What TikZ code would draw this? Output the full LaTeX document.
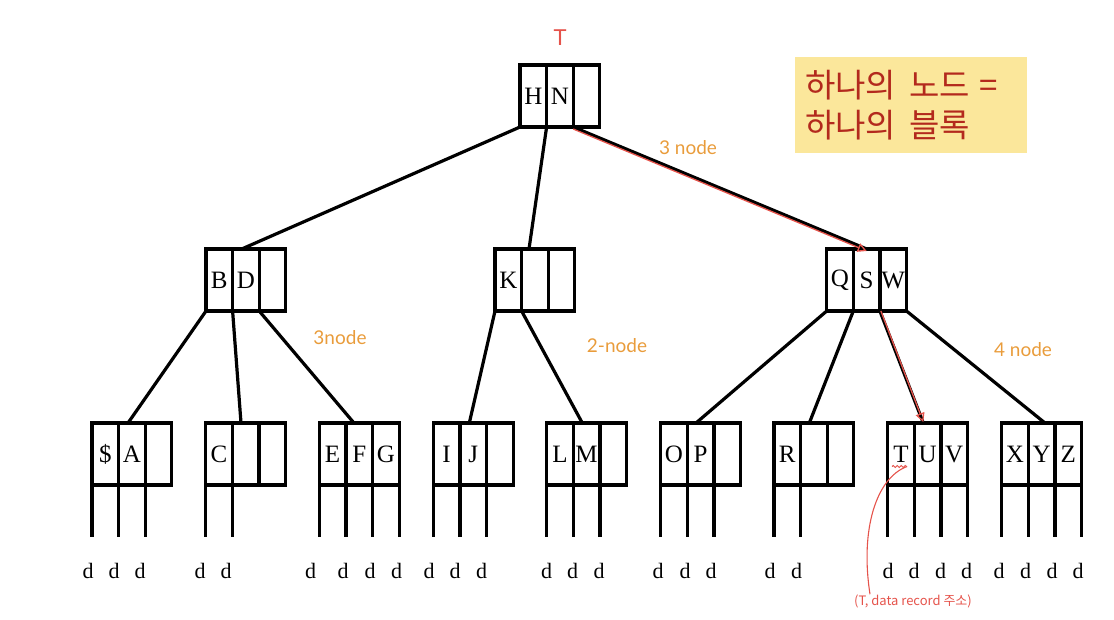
\documentclass[tikz,border=0pt]{standalone}
\usepackage{fontspec}
\setmainfont{Liberation Serif}
\newfontfamily\krfont{Noto Sans CJK KR}
\newfontfamily\handfont{Lato}
\usetikzlibrary{arrows.meta,calc,decorations.pathmorphing}
\definecolor{memobg}{HTML}{FBE79B}
\definecolor{memotx}{HTML}{B3291D}
\definecolor{pen}{HTML}{E5534B}
\definecolor{hl}{HTML}{E99C3B}
\newcommand\tribox[6]{%
  \node[cell] (#1-1) at (#2,#3) {#4};
  \node[cell] (#1-2) at (#1-1.north east) {#5};
  \node[cell] (#1-3) at (#1-2.north east) {#6};}
\newcommand\ptrs[2]{%
  \foreach \k in {1,...,#2}{%
    \ifnum\k<4 \draw[ptr] (#1-\k.south west) -- ++(0,52);%
    \else \draw[ptr] (#1-3.south east) -- ++(0,52);\fi}}
\begin{document}
\begin{tikzpicture}[x=1pt,y=-1pt,
  cell/.style={draw,line width=3.2pt,minimum width=26.6pt,minimum height=62pt,
    inner sep=0pt,outer sep=0pt,anchor=north west,font=\fontsize{25}{25}\selectfont},
  link/.style={line width=3.2pt},
  ptr/.style={line width=3.2pt},
  dlab/.style={font=\fontsize{22}{22}\selectfont,inner sep=0pt},
  hand/.style={font=\handfont\fontsize{19}{19}\selectfont,text=hl,inner sep=0pt},
  penline/.style={draw=pen,line width=1.3pt},
  pentip/.style={-{Triangle[open,length=9pt,width=9pt]}}]
\useasboundingbox (0,0) rectangle (1114,619);

% root
\tribox{HN}{520}{65}{H}{N}{}
% level 2
\tribox{BD}{206}{249}{B}{D}{}
\tribox{K}{495}{249}{K}{}{}
\tribox{QSW}{826.7}{249}{Q}{S}{W}
% leaves
\tribox{L1}{92}{423}{\$}{A}{}
\tribox{L2}{205.7}{423}{C}{}{}
\tribox{L3}{319.3}{423}{E}{F}{G}
\tribox{L4}{433.3}{423}{I}{J}{}
\tribox{L5}{546.7}{423}{L}{M}{}
\tribox{L6}{660.7}{423}{O}{P}{}
\tribox{L7}{774}{423}{R}{}{}
\tribox{L8}{887.7}{423}{T}{U}{V}
\tribox{L9}{1001.7}{423}{X}{Y}{Z}

% root links
\draw[link] (HN-1.south west) -- ([xshift=35.7pt]BD-1.north west);
\draw[link] (HN-2.south west) -- ([xshift=34pt]K-1.north west);
\draw[link] (HN-3.south west) -- ([xshift=40pt]QSW-1.north west);
% level 2 links
\draw[link] (BD-1.south west) -- ([xshift=36pt]L1-1.north west);
\draw[link] (BD-2.south west) -- ([xshift=35.3pt]L2-1.north west);
\draw[link] (BD-3.south west) -- ([xshift=34.7pt]L3-1.north west);
\draw[link] (K-1.south west) -- ([xshift=36pt]L4-1.north west);
\draw[link] (K-2.south west) -- ([xshift=35.6pt]L5-1.north west);
\draw[link] (QSW-1.south west) -- ([xshift=35.3pt]L6-1.north west);
\draw[link] (QSW-2.south west) -- ([xshift=35.3pt]L7-1.north west);
\draw[link] (QSW-3.south west) -- ([xshift=35.6pt]L8-1.north west);
\draw[link] (QSW-3.south east) -- ([xshift=43.3pt]L9-1.north west);

% data pointers
\ptrs{L1}{3}\ptrs{L2}{2}\ptrs{L3}{4}\ptrs{L4}{3}\ptrs{L5}{3}
\ptrs{L6}{3}\ptrs{L7}{2}\ptrs{L8}{4}\ptrs{L9}{4}

\foreach \x [count=\i] in {88,114,140,200,226,310.7,343,370,396.7,429,455,481.7,
  546.7,572.7,599,658,685,711,770,796.7,888,914,940.7,966.7,999,1025.7,1052,1078}
  \node[dlab] (d\i) at (\x,571) {d};

% memo
\node[fill=memobg,text=memotx,font=\krfont\fontsize{33}{40}\selectfont,align=left,
  anchor=north west,text width=212pt,inner xsep=10pt,inner ysep=0pt,
  minimum height=96pt] (memo) at (795,57) {하나의\hspace{13pt}노드\hspace{10pt}=\\하나의\hspace{13pt}블록};

% handwritten annotations
\node[font=\handfont\fontsize{22}{22}\selectfont,text=pen,inner sep=0pt] (tlab) at (560,38) {T};
\node[hand] (n3a) at (688,148) {3 node};
\node[hand] (n3b) at (340,338) {3node};
\node[hand] (n2) at (617,346) {2-node};
\node[hand] (n4) at (1023,350) {4 node};

\draw[penline,pentip] ([yshift=-2pt]HN-3.south west) -- ([xshift=40pt,yshift=-2pt]QSW-1.north west);
\draw[penline,pentip] ([xshift=1pt]QSW-3.south west) -- ([xshift=35.6pt,yshift=1pt]L8-1.north west);

\coordinate (sq1) at (892,466.5);
\coordinate (sq2) at (907,466.5);
\draw[penline,line width=1pt,decorate,decoration={snake,amplitude=1pt,segment length=4pt}] (sq1) -- (sq2);
\node[font=\krfont\fontsize{13}{13}\selectfont,text=pen,inner sep=0pt] (note) at (913,601) {(T, data record 주소)};
\draw[penline,line width=1.1pt] (sq2) .. controls (876,478) and (860,530) .. (note.north west -| 870,0);
\end{tikzpicture}
\end{document}
